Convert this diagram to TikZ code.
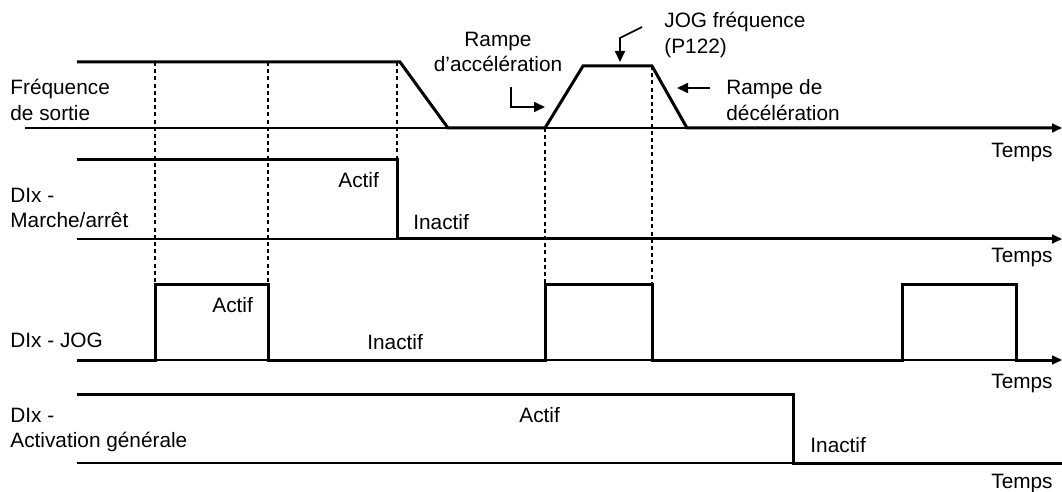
\documentclass[tikz,border=0pt]{standalone}
\usepackage{fontspec}
\setmainfont{Liberation Sans}
\usetikzlibrary{arrows.meta,positioning}
\tikzset{sig/.style={line width=1.5pt,line join=miter},
  axis/.style={line width=0.85pt,-{Triangle[length=5pt,width=4.5pt]}},
  guide/.style={line width=1pt,dash pattern=on 2pt off 1.6pt},
  lbl/.style={inner sep=0pt,font=\fontsize{10.4}{12.8}\selectfont,align=left},
  note/.style={line width=0.85pt,-{Triangle[length=5.5pt,width=5pt]}}}

\begin{document}
\begin{tikzpicture}[x=0.5pt,y=-0.5pt]
\useasboundingbox (0,0) rectangle (1062,492);
% time axes
\draw[axis] (25,128) -- (1062,128);
\draw[axis] (77,239) -- (1062,239);
\draw[axis] (77,360) -- (1062,360);
\draw[line width=0.85pt] (77,463) -- (1062,463);
% dotted guides
\foreach \gx/\gy/\gz in {155/62/285,268/62/285,397/62/160,545/128/285,652/66/285}
  \draw[guide] (\gx,\gy) -- (\gx,\gz);
% signals
\draw[sig] (77,62) -- (400,62) -- (448,128) -- (545,128) -- (583,66) -- (652,66) -- (687,128) -- (1052,128);
\draw[sig] (77,160) -- (397,160) -- (397,239) -- (1052,239);
\draw[sig] (77,360) -- (155,360) -- (155,285) -- (268,285) -- (268,360) -- (545,360) -- (545,285) -- (652,285) -- (652,360)
  -- (902,360) -- (902,285) -- (1016,285) -- (1016,360) -- (1052,360);
\draw[sig] (77,394) -- (793,394) -- (793,463) -- (1062,463);
% row names
\node[lbl,anchor=west] (freq) at (10,100) {Fréquence\\de sortie};
\node[lbl,anchor=west] (run) at (10,208) {DIx -\\Marche/arrêt};
\node[lbl,anchor=west] (jog) at (10,340) {DIx - JOG};
\node[lbl,anchor=west] (en) at (10,430) {DIx -\\Activation générale};
% time labels
\node[lbl,anchor=base east] (t1) at (1053,158) {Temps};
\node[lbl,anchor=base east] (t2) at (1053,263) {Temps};
\node[lbl,anchor=base east] (t3) at (1053,388) {Temps};
\node[lbl,anchor=base east] (t4) at (1053,488) {Temps};
% states
\node[lbl,anchor=west] (run-on) at (338,180) {Actif};
\node[lbl,anchor=west] (run-off) at (413,222) {Inactif};
\node[lbl,anchor=west] (jog-on) at (212,305) {Actif};
\node[lbl,anchor=west] (jog-off) at (367,342) {Inactif};
\node[lbl,anchor=west] (en-on) at (519,415) {Actif};
\node[lbl,anchor=west] (en-off) at (810,445) {Inactif};
% ramp notes
\node[lbl,align=center] (acc) at (498,52) {Rampe\\d’accélération};
\node[lbl,anchor=west] (jogf) at (664,35) {JOG fréquence\\(P122)};
\node[lbl,anchor=west] (dec) at (726,100) {Rampe de\\décélération};
\coordinate (acc-s) at (511,87);
\coordinate (acc-e) at (545,107);
\coordinate (jogf-s) at (642,27);
\coordinate (jogf-e) at (620,62);
\coordinate (dec-s) at (710,88);
\coordinate (dec-e) at (677,88);
\draw[note] (acc-s) |- (acc-e);
\draw[note] (jogf-s) -- (620,38) -- (jogf-e);
\draw[note] (dec-s) -- (dec-e);
\end{tikzpicture}
\end{document}
